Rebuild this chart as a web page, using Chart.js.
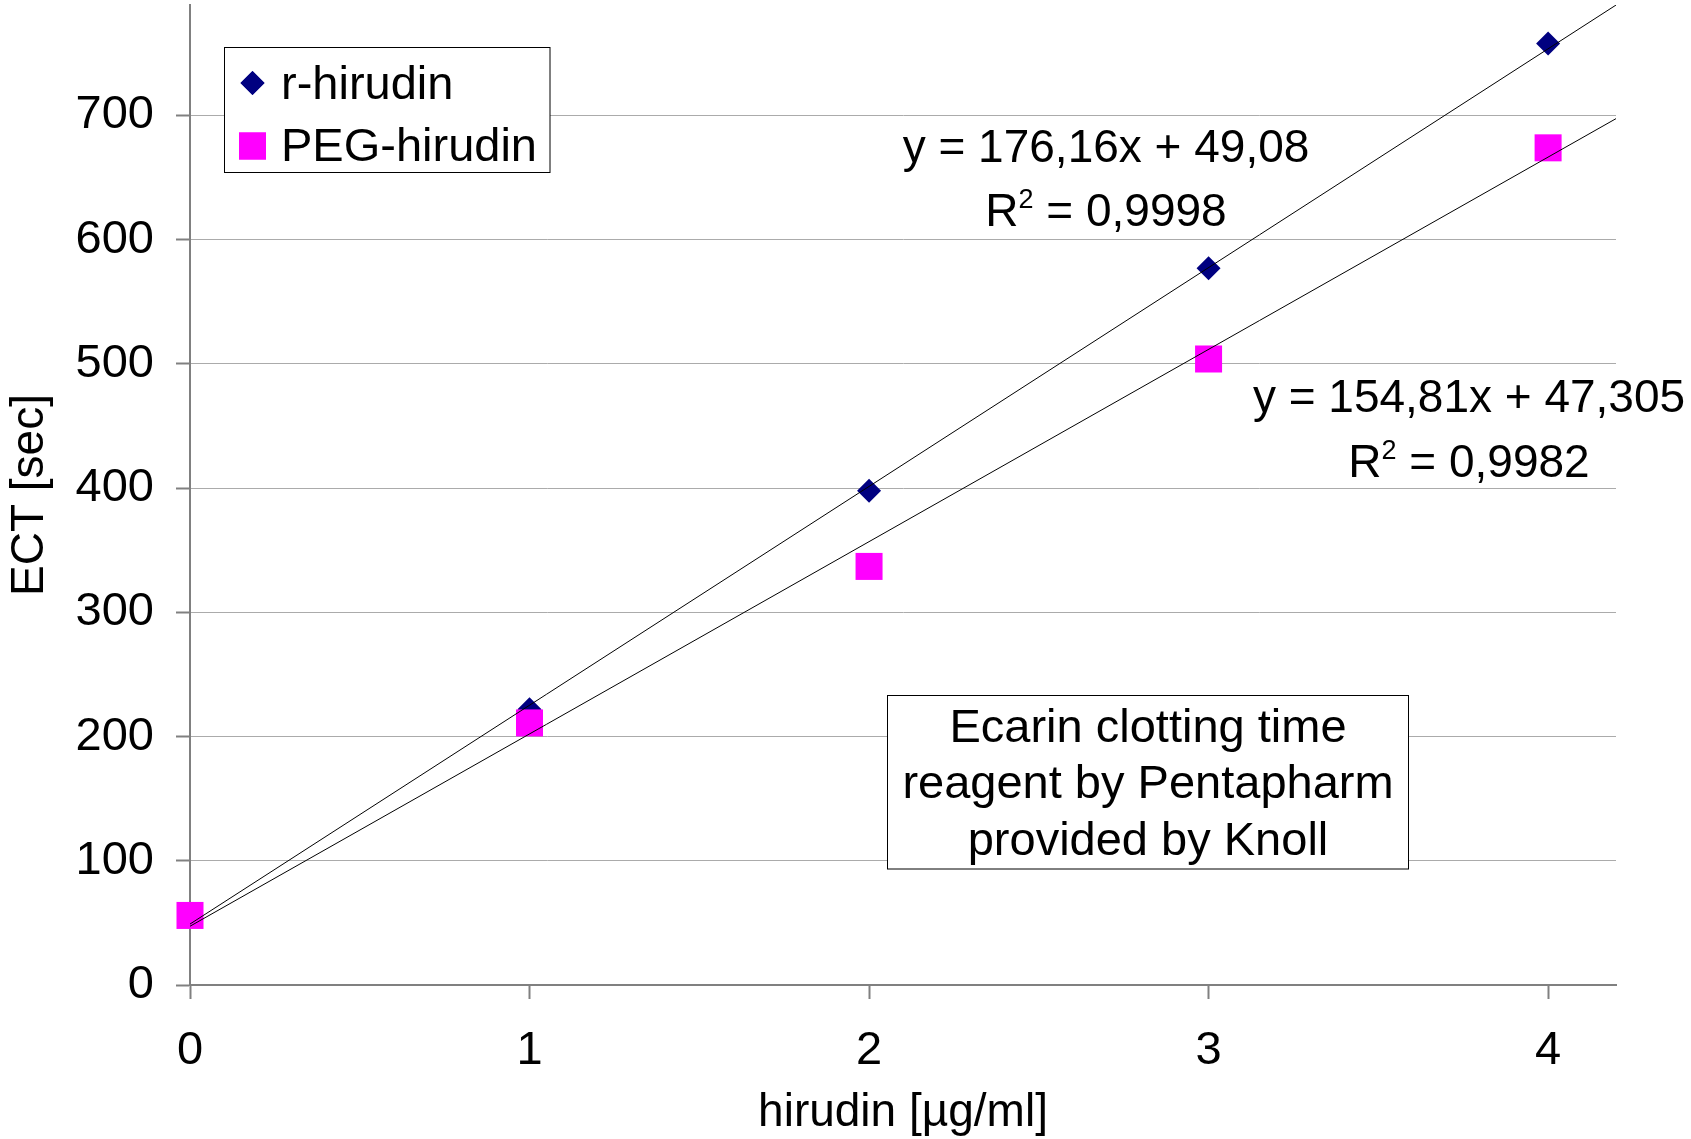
<!DOCTYPE html>
<html>
<head>
<meta charset="utf-8">
<script src="https://cdn.jsdelivr.net/npm/chart.js@4/dist/chart.umd.min.js"></script>
<style>
  html, body { margin: 0; padding: 0; background: #ffffff; }
  #wrap { position: relative; width: 1691px; height: 1139px; }
  canvas { display: block; }
</style>
</head>
<body>
<div id="wrap"><canvas id="ect" width="1691" height="1139"></canvas></div>
<script>
// Hirudin dose (µg/ml) against ecarin clotting time (sec)
const doses = [0, 1, 2, 3, 4];
const rHirudin = [55, 222, 398, 577, 758];
const pegHirudin = [56, 211, 337, 504, 674];
const seriesNames = ['r-hirudin', 'PEG-hirudin'];

// Linear trend fits as printed on the chart: y = slope * x + intercept
const trendSlope = [176.16, 154.81];
const trendIntercept = [49.08, 47.305];
const trendR2 = [0.9998, 0.9982];

const xTicks = [0, 1, 2, 3, 4];
const yTicks = [0, 100, 200, 300, 400, 500, 600, 700];
const xRange = [0, 4.2];
const yRange = [0, 789];

const xTitle = 'hirudin [µg/ml]';
const yTitle = 'ECT [sec]';
const noteLines = ['Ecarin clotting time', 'reagent by Pentapharm', 'provided by Knoll'];

const FONT = "'Liberation Sans', Arial, Helvetica, sans-serif";
const AXIS_GRAY = '#808080';
const GRID_GRAY = '#ababab';

Chart.defaults.font.family = FONT;
Chart.defaults.color = '#000000';

const toPoints = (xs, ys) => xs.map((x, i) => ({ x: x, y: ys[i] }));
const trendPoints = (k) => xRange.map(x => ({ x: x, y: trendIntercept[k] + trendSlope[k] * x }));
const decimalComma = (v) => String(v).replace('.', ',');

// Legend box drawn inside the plot area
const legendBox = {
  id: 'legendBox',
  afterDatasetsDraw(chart, args, opts) {
    const ctx = chart.ctx;
    ctx.save();
    ctx.fillStyle = '#ffffff';
    ctx.fillRect(opts.left, opts.top, opts.width, opts.height);
    ctx.strokeStyle = '#000000';
    ctx.lineWidth = 1;
    ctx.strokeRect(opts.left, opts.top, opts.width, opts.height);
    const items = chart.data.datasets.filter(d => d.inLegend);
    items.forEach((ds, i) => {
      const cy = opts.rows[i];
      ctx.fillStyle = ds.backgroundColor;
      const style = {
        pointStyle: ds.pointStyle,
        radius: ds.pointRadius,
        rotation: 0,
        borderWidth: 0
      };
      ctx.beginPath();
      Chart.helpers.drawPoint(ctx, style, opts.markerX, cy);
      ctx.fill();
      ctx.fillStyle = '#000000';
      ctx.font = opts.fontSize + 'px ' + FONT;
      ctx.textAlign = 'left';
      ctx.textBaseline = 'alphabetic';
      ctx.fillText(ds.label, opts.textX, opts.baselines[i]);
    });
    ctx.restore();
  }
};

// Regression equations and the reagent note
const annotations = {
  id: 'annotations',
  afterDatasetsDraw(chart, args, opts) {
    const ctx = chart.ctx;
    ctx.save();
    ctx.fillStyle = '#000000';
    ctx.textBaseline = 'alphabetic';

    opts.equations.forEach((pos, k) => {
      const big = opts.fontSize + 'px ' + FONT;
      const small = opts.supSize + 'px ' + FONT;
      const eq = 'y = ' + decimalComma(trendSlope[k]) + 'x + ' + decimalComma(trendIntercept[k]);
      ctx.font = big;
      ctx.textAlign = 'center';
      ctx.fillText(eq, pos.cx, pos.line1);

      const rest = ' = ' + decimalComma(trendR2[k]);
      ctx.font = big;
      const wR = ctx.measureText('R').width;
      const wRest = ctx.measureText(rest).width;
      ctx.font = small;
      const wSup = ctx.measureText('2').width;
      let x = pos.cx - (wR + wSup + wRest) / 2;
      ctx.textAlign = 'left';
      ctx.font = big;
      ctx.fillText('R', x, pos.line2);
      x += wR;
      ctx.font = small;
      ctx.fillText('2', x, pos.line2 - opts.supRaise);
      x += wSup;
      ctx.font = big;
      ctx.fillText(rest, x, pos.line2);
    });

    const b = opts.note;
    ctx.fillStyle = '#ffffff';
    ctx.fillRect(b.left, b.top, b.width, b.height);
    ctx.strokeStyle = '#000000';
    ctx.lineWidth = 1;
    ctx.strokeRect(b.left, b.top, b.width, b.height);
    ctx.fillStyle = '#000000';
    ctx.font = b.fontSize + 'px ' + FONT;
    ctx.textAlign = 'center';
    noteLines.forEach((line, i) => {
      ctx.fillText(line, b.left + b.width / 2, b.baselines[i]);
    });
    ctx.restore();
  }
};

new Chart(document.getElementById('ect'), {
  type: 'scatter',
  data: {
    datasets: [
      {
        label: seriesNames[0],
        inLegend: true,
        data: toPoints(doses, rHirudin),
        pointStyle: 'rectRot',
        pointRadius: 12,
        pointBorderWidth: 0,
        backgroundColor: '#000080',
        borderColor: '#000080',
        clip: false,
        order: 4
      },
      {
        label: seriesNames[1],
        inLegend: true,
        data: toPoints(doses, pegHirudin),
        pointStyle: 'rect',
        pointRadius: 19.1,
        pointBorderWidth: 0,
        backgroundColor: '#ff00ff',
        borderColor: '#ff00ff',
        clip: false,
        order: 3
      },
      {
        label: 'trend ' + seriesNames[0],
        data: trendPoints(0),
        showLine: true,
        borderColor: '#000000',
        borderWidth: 1,
        pointRadius: 0,
        order: 2
      },
      {
        label: 'trend ' + seriesNames[1],
        data: trendPoints(1),
        showLine: true,
        borderColor: '#000000',
        borderWidth: 1,
        pointRadius: 0,
        order: 1
      }
    ]
  },
  options: {
    responsive: false,
    animation: false,
    devicePixelRatio: 1,
    layout: { autoPadding: false, padding: { left: 0, top: 5, right: 75, bottom: 0 } },
    plugins: {
      legend: { display: false },
      tooltip: { enabled: false },
      legendBox: {
        left: 224.5, top: 47.5, width: 325.5, height: 125,
        markerX: 252.5, rows: [83, 146],
        textX: 281, baselines: [99, 161], fontSize: 47
      },
      annotations: {
        fontSize: 46, supSize: 27, supRaise: 18,
        equations: [
          { cx: 1106, line1: 162, line2: 226 },
          { cx: 1469, line1: 412, line2: 477 }
        ],
        note: {
          left: 887.5, top: 695.5, width: 521, height: 173.5,
          fontSize: 47, baselines: [742, 798, 855]
        }
      }
    },
    scales: {
      x: {
        type: 'linear',
        position: 'bottom',
        min: xRange[0],
        max: xRange[1],
        afterBuildTicks: (s) => { s.ticks = xTicks.map(v => ({ value: v })); },
        afterFit: (s) => { s.height = 154; s.paddingLeft = 0; s.paddingRight = 0; },
        grid: {
          drawOnChartArea: false,
          drawTicks: true,
          tickLength: 14,
          tickWidth: 2,
          tickColor: AXIS_GRAY
        },
        border: { display: true, color: AXIS_GRAY, width: 2 },
        ticks: {
          padding: 24,
          autoSkip: false,
          maxRotation: 0,
          color: '#000000',
          font: { size: 47 },
          callback: (v) => String(v)
        },
        title: {
          display: true,
          text: xTitle,
          color: '#000000',
          font: { size: 46, lineHeight: 1.1 },
          padding: { top: 0, bottom: 0 }
        }
      },
      y: {
        type: 'linear',
        position: 'left',
        min: yRange[0],
        max: yRange[1],
        afterBuildTicks: (s) => { s.ticks = yTicks.map(v => ({ value: v })); },
        afterFit: (s) => { s.width = 190; s.paddingTop = 0; s.paddingBottom = 0; },
        grid: {
          drawOnChartArea: true,
          drawTicks: true,
          tickLength: 14,
          tickWidth: 2,
          tickColor: AXIS_GRAY,
          lineWidth: 1,
          color: (c) => (c.tick && c.tick.value === 0) ? 'rgba(0,0,0,0)' : GRID_GRAY
        },
        border: { display: true, color: AXIS_GRAY, width: 2 },
        ticks: {
          padding: 22,
          autoSkip: false,
          color: '#000000',
          font: { size: 47 },
          callback: (v) => String(v)
        },
        title: {
          display: true,
          text: yTitle,
          color: '#000000',
          font: { size: 46 },
          padding: { top: 3, bottom: 0 }
        }
      }
    }
  },
  plugins: [legendBox, annotations]
});
</script>
</body>
</html>
